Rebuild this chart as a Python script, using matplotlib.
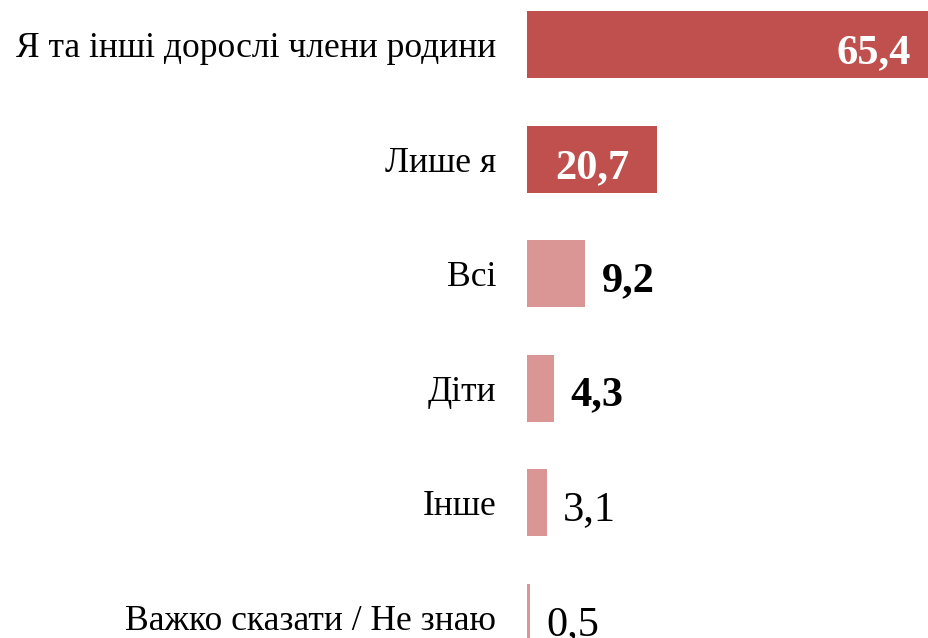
import matplotlib

matplotlib.use("Agg")
import matplotlib.pyplot as plt

# Share of respondents (%), top to bottom as in the chart
categories = [
    "Я та інші дорослі члени родини",
    "Лише я",
    "Всі",
    "Діти",
    "Інше",
    "Важко сказати / Не знаю",
]
values = [65.4, 20.7, 9.2, 4.3, 3.1, 0.5]
value_labels = ["65,4", "20,7", "9,2", "4,3", "3,1", "0,5"]

DARK = "#C0504D"
LIGHT = "#D99694"

plt.rcParams["font.family"] = ["Liberation Serif", "DejaVu Serif"]

DPI = 100
figure = plt.figure(figsize=(9.29, 6.38), dpi=DPI)
fig_w, fig_h = 929, 638

# axes placed in pixel terms; bars run past the right/bottom edge like the source
left_px = 527
px_per_unit = 6.3
x_max = 70
step_px = 114.6
top_px = 44.5 - 0.5 * step_px
bottom_px = 44.5 + 5.5 * step_px
axis = figure.add_axes(
    [
        left_px / fig_w,
        1 - bottom_px / fig_h,
        x_max * px_per_unit / fig_w,
        (bottom_px - top_px) / fig_h,
    ]
)

positions = list(range(len(categories)))
colors = [DARK if value > 15 else LIGHT for value in values]
axis.barh(positions, values, height=0.585, color=colors, linewidth=0)

axis.set_xlim(0, x_max)
axis.set_ylim(len(categories) - 0.5, -0.5)
axis.set_yticks(positions)
axis.set_yticklabels(categories, fontsize=25.6)
axis.tick_params(axis="y", length=0, pad=22)
axis.set_xticks([])
for spine in axis.spines.values():
    spine.set_visible(False)

for position, value, label in zip(positions, values, value_labels):
    if value > 15:
        axis.annotate(
            label, (value, position), xytext=(-20, -3), textcoords="offset points",
            ha="right", va="center_baseline", fontsize=30.5, fontweight="bold", color="white",
        )
    else:
        weight = "bold" if value > 4 else "normal"
        axis.annotate(
            label, (value, position), xytext=(12, -2), textcoords="offset points",
            ha="left", va="center_baseline", fontsize=30.5, fontweight=weight, color="black",
        )

figure.savefig("out.png", dpi=DPI)
